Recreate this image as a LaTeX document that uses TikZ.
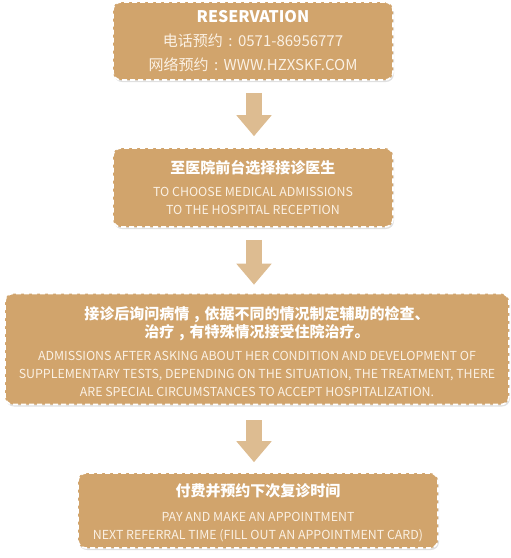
\documentclass[tikz,border=0pt]{standalone}
\usepackage{fontspec}
\setmainfont{Noto Sans CJK SC}
\usetikzlibrary{arrows.meta,shadows}

\definecolor{stepfill}{HTML}{D1A46C}
\definecolor{arrowfill}{HTML}{DDBC91}
\definecolor{softtext}{HTML}{FBF1E4}

\newcommand{\steptitle}{\fontsize{15}{18}\selectfont\bfseries\color{white}}
\newcommand{\zhcolon}{\hspace{5.5pt}:\hspace{5.5pt}}
\newcommand{\zhcomma}{\hspace{5pt},\hspace{5pt}}

\begin{document}
\begin{tikzpicture}[x=1pt, y=-1pt,
  stepbox/.style={fill=stepfill, draw=white, line width=1.6pt,
                  dash pattern=on 5pt off 3pt, rounded corners=8pt,
                  align=center, inner sep=0pt, text=softtext,
                  font=\fontsize{12.4}{18}\selectfont,
                  drop shadow={shadow xshift=1pt, shadow yshift=-2pt,
                               opacity=0.12, fill=black}},
  flow/.style={arrowfill, line width=16pt,
               -{Triangle[length=21pt, width=34pt]}},
]
\useasboundingbox (0,0) rectangle (511,558);

% ---- the four steps ----
\node[stepbox, minimum width=280pt, minimum height=78pt,
      font=\fontsize{15}{24}\selectfont] (resv) at (253,41)
  {{\fontsize{16}{18}\selectfont\bfseries\color{white}RESERVATION}\\
   电话预约\zhcolon 0571-86956777\\
   网络预约\zhcolon WWW.HZXSKF.COM};

\node[stepbox, minimum width=280pt, minimum height=79pt] (recep) at (253,187.5)
  {{\steptitle 至医院前台选择接诊医生}\\[5pt]
   TO CHOOSE MEDICAL ADMISSIONS\\
   TO THE HOSPITAL RECEPTION};

\node[stepbox, minimum width=504pt, minimum height=111pt] (diag) at (257,349)
  {{\steptitle\rule{0pt}{19pt}接诊后询问病情\zhcomma 依据不同的情况制定辅助的检查、}\\
   {\steptitle 治疗\zhcomma 有特殊情况接受住院治疗。}\\[5pt]
   ADMISSIONS AFTER ASKING ABOUT HER CONDITION AND DEVELOPMENT OF\\
   SUPPLEMENTARY TESTS, DEPENDING ON THE SITUATION, THE TREATMENT, THERE\\
   ARE SPECIAL CIRCUMSTANCES TO ACCEPT HOSPITALIZATION.};

\node[stepbox, minimum width=360pt, minimum height=75pt] (pay) at (258,510.5)
  {{\steptitle\rule{0pt}{18pt}付费并预约下次复诊时间}\\[7pt]
   PAY AND MAKE AN APPOINTMENT\\
   NEXT REFERRAL TIME (FILL OUT AN APPOINTMENT CARD)};

% ---- block arrows between steps ----
\draw[flow, shorten <=12pt, shorten >=11pt] (resv.south -| 254,0) -- (recep.north -| 254,0);
\draw[flow, shorten <=12pt, shorten >=8pt] (recep.south -| 254,0) -- (diag.north -| 254,0);
\draw[flow, shorten <=15pt, shorten >=10pt] (diag.south -| 254,0) -- (pay.north -| 254,0);
\end{tikzpicture}
\end{document}
